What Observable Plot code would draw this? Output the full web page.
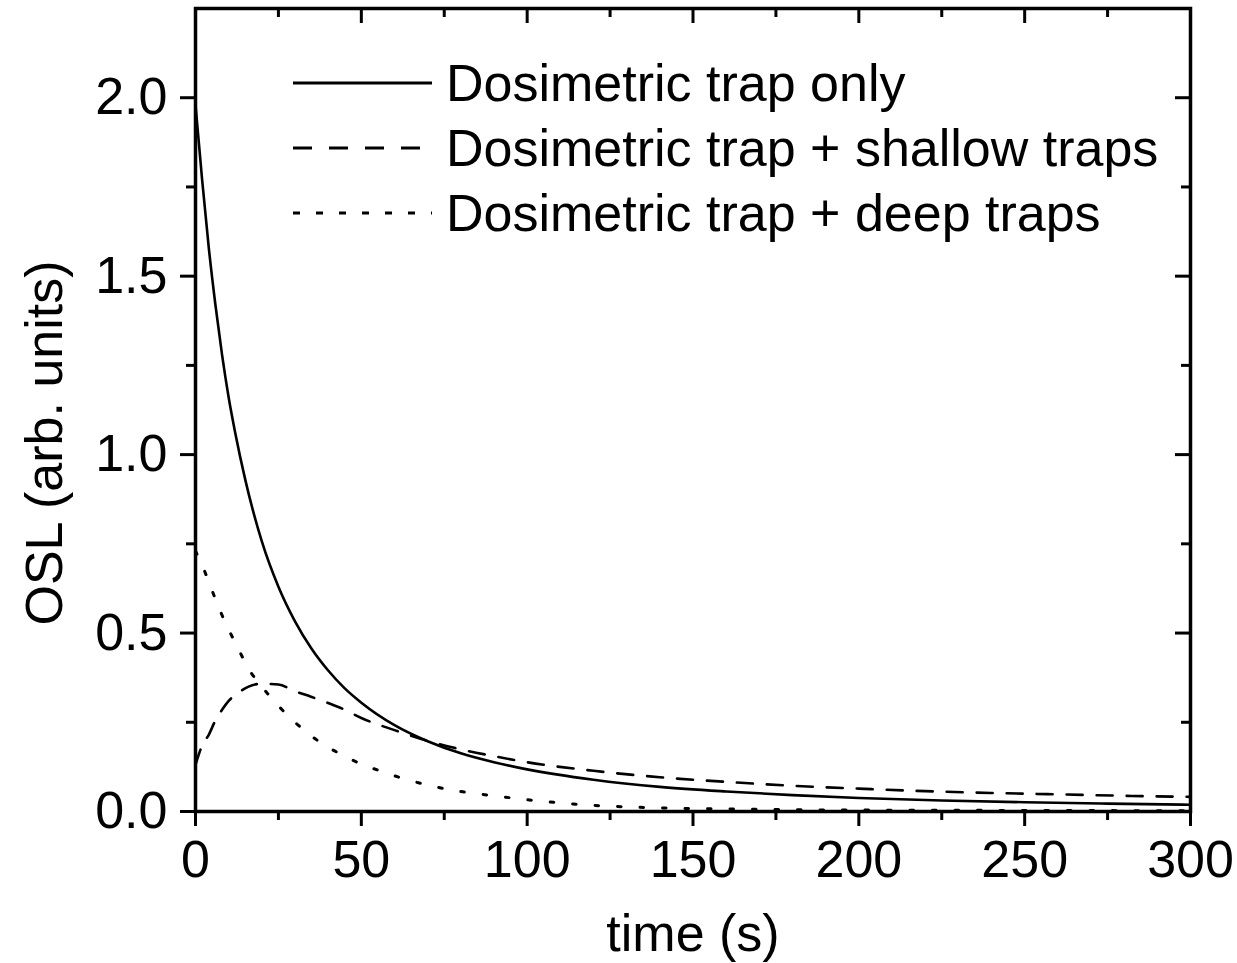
<!DOCTYPE html>
<html><head><meta charset="utf-8">
<script src="https://cdn.jsdelivr.net/npm/d3@7"></script>
<script src="https://cdn.jsdelivr.net/npm/@observablehq/plot@0.6"></script>
<style>
body{margin:0;background:#fff;}
#wrap{position:relative;width:1237px;height:963px;font-family:"Liberation Sans",Arial,sans-serif;color:#000;}
#legend{position:absolute;left:293px;top:50px;}
.row{display:flex;align-items:center;height:65px;font-size:52px;white-space:nowrap;}
.row svg{margin-right:14px;}
</style></head><body><div id="wrap"></div>
<script>
// ---- data ----
const seriesNames = ["Dosimetric trap only", "Dosimetric trap + shallow traps", "Dosimetric trap + deep traps"];

const tSolid = [0, 2, 4, 6, 8, 10, 12, 15, 20, 25, 30, 35, 40, 45, 50, 60, 70, 80, 90, 100, 120, 140, 160, 180, 200, 225, 250, 275, 300];
const oslSolid = [1.98, 1.77, 1.58, 1.42, 1.28, 1.16, 1.06, 0.93, 0.757, 0.63, 0.533, 0.456, 0.395, 0.345, 0.305, 0.242, 0.197, 0.163, 0.138, 0.118, 0.089, 0.069, 0.056, 0.046, 0.038, 0.031, 0.026, 0.022, 0.019];

const tShallow = [0, 1, 2, 4, 6, 8, 10, 13, 16, 20, 25, 30, 35, 40, 45, 50, 60, 70, 80, 90, 100, 120, 140, 160, 180, 200, 220, 240, 260, 280, 300];
const oslShallow = [0.13, 0.16, 0.185, 0.215, 0.255, 0.285, 0.31, 0.333, 0.35, 0.358, 0.356, 0.337, 0.321, 0.304, 0.285, 0.262, 0.228, 0.198, 0.174, 0.155, 0.138, 0.114, 0.096, 0.083, 0.072, 0.064, 0.057, 0.052, 0.048, 0.044, 0.041];

const tDeep = [0, 2, 4, 6, 8, 10, 13, 16, 20, 25, 30, 35, 40, 45, 50, 55, 60, 70, 80, 90, 100, 110, 120, 130, 140, 160, 180, 200, 250, 300];
const oslDeep = [0.73, 0.69, 0.644, 0.595, 0.55, 0.51, 0.454, 0.40, 0.35, 0.296, 0.25, 0.211, 0.18, 0.155, 0.133, 0.116, 0.10, 0.074, 0.056, 0.044, 0.033, 0.024, 0.017, 0.013, 0.010, 0.007, 0.005, 0.004, 0.003, 0.002];

const xTicks = [0, 50, 100, 150, 200, 250, 300];
const xMinor = [25, 75, 125, 175, 225, 275];
const yTicks = [0, 0.5, 1.0, 1.5, 2.0];
const yMinor = [0.25, 0.75, 1.25, 1.75];

// ---- styles ----
const dashes = [null, "16,14", "3.5,19"];
const widths = [2.6, 2.6, 3];

const W = 1237, H = 963, mL = 195, mR = 47, mT = 8, mB = 152;
const plotW = W - mL - mR, plotH = H - mT - mB;

const toRows = (ts, vs, s) => ts.map((t, i) => ({t, v: vs[i], s}));
const rows = [toRows(tSolid, oslSolid, 0), toRows(tShallow, oslShallow, 1), toRows(tDeep, oslDeep, 2)];

const lineMarks = rows.map((r, i) => Plot.line(r, {
  x: "t", y: "v", stroke: "#000", strokeWidth: widths[i],
  strokeDasharray: dashes[i] ?? undefined, curve: "monotone-x", clip: true
}));

const chart = Plot.plot({
  width: W, height: H,
  marginLeft: mL, marginRight: mR, marginTop: mT, marginBottom: mB,
  style: {fontFamily: "Liberation Sans, Arial, sans-serif", fontSize: "52px", color: "#000", background: "#fff"},
  x: {domain: [0, 300]},
  y: {domain: [0, 2.25]},
  marks: [
    ...lineMarks,
    Plot.frame({stroke: "#000", strokeWidth: 3.5}),
    Plot.axisX({ticks: xTicks, tickSize: 15, tickPadding: 14, fontSize: 52, strokeWidth: 3, label: null, tickFormat: d => String(d)}),
    Plot.axisX({ticks: xMinor, tickSize: 9, strokeWidth: 3, label: null, tickFormat: () => ""}),
    Plot.axisY({ticks: yTicks, tickSize: 15, tickPadding: 13, fontSize: 52, strokeWidth: 3, label: null, tickFormat: d3.format(".1f")}),
    Plot.axisY({ticks: yMinor, tickSize: 9, strokeWidth: 3, label: null, tickFormat: () => ""}),
    Plot.tickX(xTicks, {x: d => d, insetBottom: plotH - 15, strokeWidth: 3}),
    Plot.tickX(xMinor, {x: d => d, insetBottom: plotH - 9, strokeWidth: 3}),
    Plot.tickY(yTicks, {y: d => d, insetLeft: plotW - 15, strokeWidth: 3}),
    Plot.tickY(yMinor, {y: d => d, insetLeft: plotW - 9, strokeWidth: 3}),
    Plot.text(["time (s)"], {frameAnchor: "bottom", textAnchor: "middle", dy: 139, fontSize: 52, fill: "#000"}),
    Plot.text(["OSL (arb. units)"], {frameAnchor: "left", textAnchor: "middle", dx: -150, dy: 33, rotate: -90, fontSize: 52, fill: "#000"})
  ]
});

const wrap = document.getElementById("wrap");
wrap.appendChild(chart);

// legend overlay inside the plot area
const legend = document.createElement("div");
legend.id = "legend";
const legendDash = [null, "19,17", "7,16"];
seriesNames.forEach((name, i) => {
  const row = document.createElement("div");
  row.className = "row";
  const dash = legendDash[i] ? `stroke-dasharray="${legendDash[i]}"` : "";
  row.innerHTML = `<svg width="139" height="10"><line x1="0" y1="5" x2="139" y2="5" stroke="#000" stroke-width="3" ${dash}/></svg><span>${name}</span>`;
  legend.appendChild(row);
});
wrap.appendChild(legend);
</script>
</body></html>
